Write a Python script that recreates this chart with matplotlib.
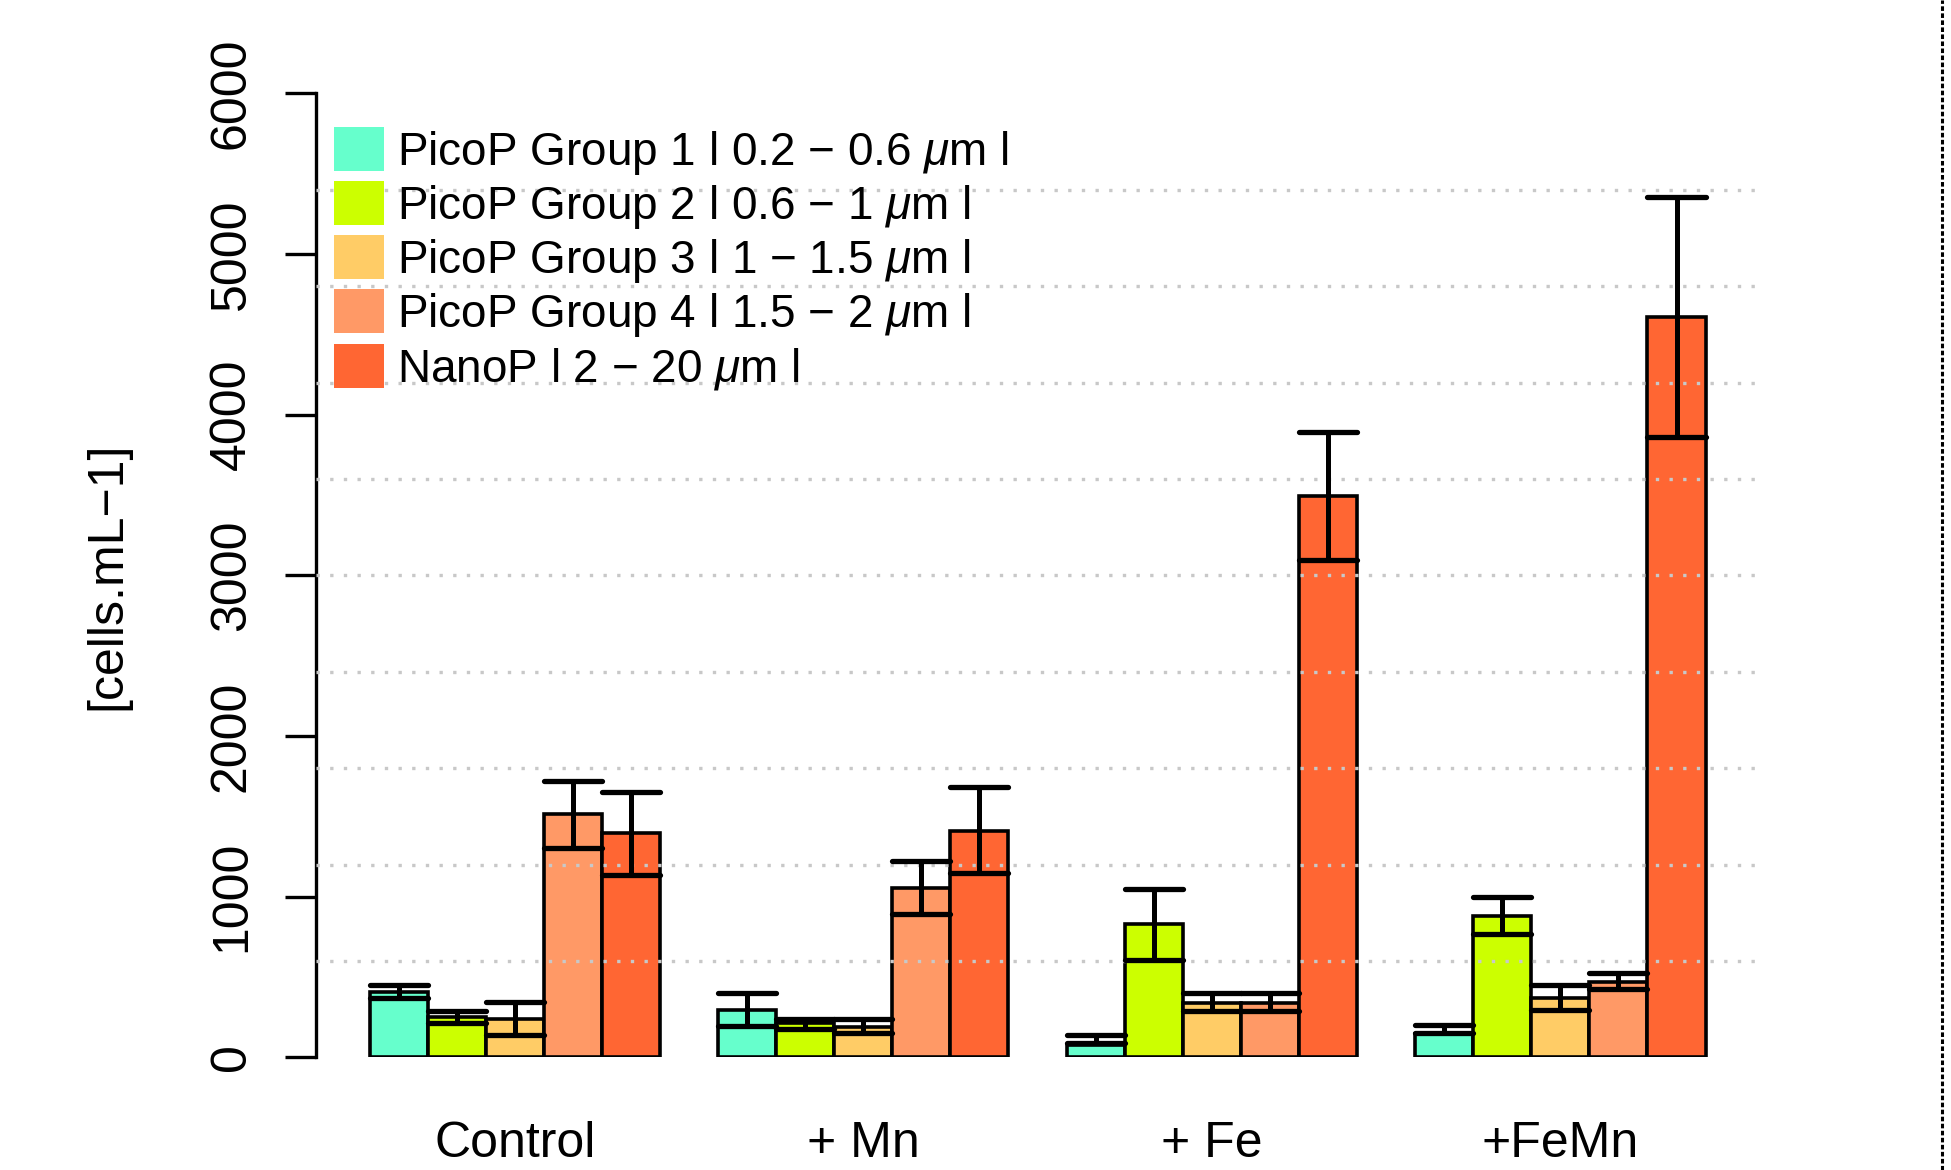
import numpy as np
import matplotlib
matplotlib.use('Agg')
import matplotlib.pyplot as plt
from matplotlib.patches import Patch
from matplotlib.lines import Line2D

plt.rcParams['font.family'] = ['Liberation Sans', 'DejaVu Sans']
plt.rcParams['mathtext.fontset'] = 'custom'
plt.rcParams['mathtext.it'] = 'Liberation Sans:italic'
plt.rcParams['mathtext.rm'] = 'Liberation Sans'

#  data
groups = ['Control', '+ Mn', '+ Fe', '+FeMn']
series = ['PicoP Group 1 l 0.2 \u2212 0.6 $\\mu$m l',
          'PicoP Group 2 l 0.6 \u2212 1 $\\mu$m l',
          'PicoP Group 3 l 1 \u2212 1.5 $\\mu$m l',
          'PicoP Group 4 l 1.5 \u2212 2 $\\mu$m l',
          'NanoP l 2 \u2212 20 $\\mu$m l']
colors = ['#66FFCC', '#CCFF00', '#FFCC66', '#FF9966', '#FF6633']

g1 = [408, 295, 78, 143]
g2 = [249, 212, 828, 880]
g3 = [237, 188, 340, 367]
g4 = [1512, 1055, 340, 471]
nano = [1395, 1411, 3496, 4608]

g1_lo = [371, 195, 87, 153]
g1_hi = [452, 398, 137, 201]
g2_lo = [212, 176, 608, 766]
g2_hi = [288, 238, 1050, 1000]
g3_lo = [141, 150, 290, 293]
g3_hi = [344, 238, 398, 448]
g4_lo = [1302, 891, 290, 423]
g4_hi = [1721, 1225, 398, 527]
nano_lo = [1132, 1147, 3096, 3862]
nano_hi = [1651, 1682, 3893, 5355]

values = [g1, g2, g3, g4, nano]
lows = [g1_lo, g2_lo, g3_lo, g4_lo, nano_lo]
highs = [g1_hi, g2_hi, g3_hi, g4_hi, nano_hi]

#  figure layout
fig = plt.figure(figsize=(19.51, 11.70), dpi=100)
ax = fig.add_axes([0.162, 0.0963, 0.7396, 0.8239])

n_series = len(series)
group_start = 1 + np.arange(len(groups)) * (n_series + 1)

for i in range(n_series):
    x = group_start + i + 0.5
    ax.bar(x, values[i], width=1, color=colors[i], edgecolor='black', linewidth=2.6, zorder=2)
    ax.vlines(x, lows[i], highs[i], color='black', linewidth=3.6, zorder=4)
    for y in (lows[i], highs[i]):
        lc = ax.hlines(y, x - 0.5, x + 0.5, color='black', linewidth=3.8, zorder=4)
        lc.set_capstyle('round')

#  dotted horizontal guide lines drawn over the bars
for v in np.arange(600, 6000, 600):
    ax.axhline(v, color='#C8C8C8', linewidth=2.4, linestyle=(0, (1, 3.1)), zorder=3)

ax.set_xlim(0.08, 24.92)
ax.set_ylim(0, 6000)

for side in ['top', 'right', 'bottom']:
    ax.spines[side].set_visible(False)
ax.spines['left'].set_linewidth(2.4)
ax.spines['left'].set_bounds(0, 6000)

ax.set_yticks(np.arange(0, 6001, 1000))
ax.tick_params(axis='y', length=22, width=2.4, pad=22, labelsize=36, labelrotation=90)
for lab in ax.get_yticklabels():
    lab.set_va('center')

ax.set_xticks(group_start + n_series / 2)
ax.set_xticklabels(groups)
ax.tick_params(axis='x', length=0, pad=46, labelsize=36)

ax.set_ylabel('[cells.mL\u22121]', fontsize=36)
ax.yaxis.set_label_coords(-0.129, 0.5)

handles = [Patch(facecolor=c, edgecolor='none') for c in colors]
ax.legend(handles, series, loc='upper left', bbox_to_anchor=(334 / 1951, 1 - 127 / 1170),
          bbox_transform=fig.transFigure, frameon=False, fontsize=33,
          handlelength=1.1, handleheight=1.1, handletextpad=0.28,
          labelspacing=0.1, borderpad=0, borderaxespad=0)

#  dashed border line on the right
fig.add_artist(Line2D([0.9954, 0.9954], [0, 1], transform=fig.transFigure,
                      color='black', linewidth=2.2, linestyle=(0, (1.5, 0.8))))

fig.savefig('out.png', dpi=100)
